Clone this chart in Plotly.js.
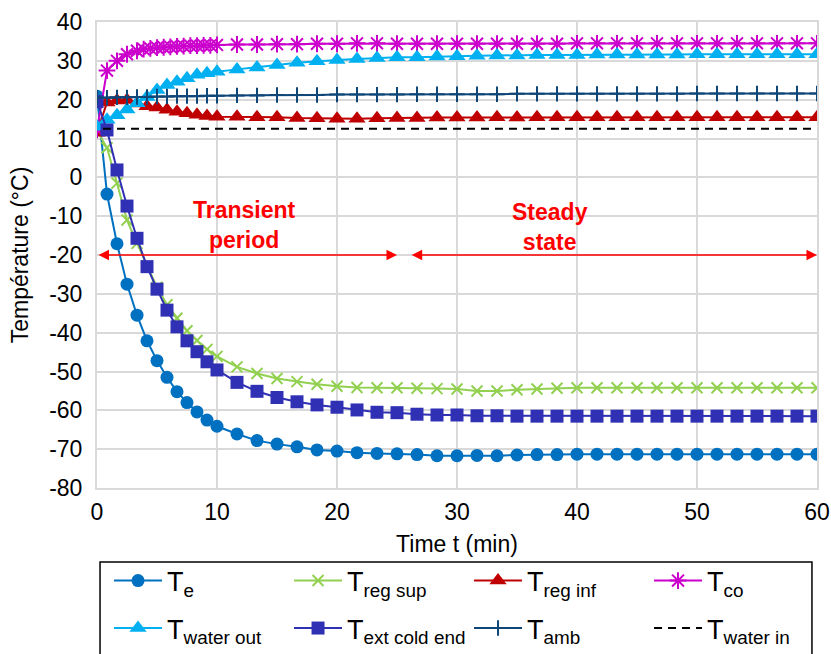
<!DOCTYPE html>
<html>
<head>
<meta charset="utf-8">
<script src="https://cdn.plot.ly/plotly-3.0.1.min.js"></script>
<style>html,body{margin:0;padding:0;background:#fff;}#chart{width:831px;height:654px;}</style>
</head>
<body>
<div id="chart"></div>
<script>
// ---- data (minutes, °C) ----
const time = [0, 0.833, 1.667, 2.5, 3.333, 4.167, 5, 5.833, 6.667, 7.5, 8.333, 9.167, 10,
  11.667, 13.333, 15, 16.667, 18.333, 20, 21.667, 23.333, 25, 26.667, 28.333, 30, 31.667, 33.333,
  35, 36.667, 38.333, 40, 41.667, 43.333, 45, 46.667, 48.333, 50, 51.667, 53.333, 55, 56.667, 58.333, 60];

const timeCo = [0, 0.833, 1.667, 2.5, 3.333, 3.889, 4.444, 5, 5.556, 6.111, 6.667, 7.222, 7.778, 8.333, 8.889, 9.444, 10,
  11.667, 13.333, 15, 16.667, 18.333, 20, 21.667, 23.333, 25, 26.667, 28.333, 30, 31.667, 33.333,
  35, 36.667, 38.333, 40, 41.667, 43.333, 45, 46.667, 48.333, 50, 51.667, 53.333, 55, 56.667, 58.333, 60];

const tE = [20.9, -4.3, -17.1, -27.5, -35.5, -42.1, -47.2, -51.5, -55.2, -58.0, -60.4, -62.5, -64.1,
  -66.1, -67.8, -68.7, -69.4, -70.2, -70.5, -70.9, -71.1, -71.2, -71.4, -71.7, -71.7, -71.6, -71.7,
  -71.5, -71.4, -71.4, -71.3, -71.3, -71.3, -71.3, -71.3, -71.3, -71.3, -71.3, -71.3, -71.3, -71.3, -71.3, -71.3];

const tRegSup = [12.0, 7.6, -1.5, -11.0, -17.0, -22.8, -28.3, -32.8, -36.3, -39.5, -42.0, -44.3, -46.1,
  -48.8, -50.5, -51.8, -52.6, -53.3, -53.8, -54.1, -54.2, -54.2, -54.3, -54.4, -54.5, -55.0, -55.0,
  -54.7, -54.5, -54.3, -54.2, -54.2, -54.2, -54.2, -54.2, -54.2, -54.2, -54.2, -54.2, -54.2, -54.2, -54.2, -54.2];

const tRegInf = [11.5, 19.3, 19.8, 19.9, 19.0, 18.3, 18.0, 17.4, 16.9, 16.5, 16.1, 15.8, 15.6,
  15.6, 15.5, 15.5, 15.3, 15.2, 15.1, 15.1, 15.2, 15.3, 15.3, 15.4, 15.4, 15.4, 15.5,
  15.4, 15.5, 15.5, 15.5, 15.5, 15.5, 15.5, 15.5, 15.5, 15.5, 15.5, 15.5, 15.5, 15.5, 15.5, 15.5];

const tCo = [12.2, 27.5, 30.0, 31.7, 32.6, 33.0, 33.2, 33.4, 33.5, 33.6, 33.7, 33.8, 33.9, 33.9, 34.0, 34.0, 34.1,
  34.2, 34.2, 34.3, 34.3, 34.4, 34.4, 34.5, 34.5, 34.4, 34.4, 34.4, 34.4, 34.4, 34.4,
  34.4, 34.4, 34.4, 34.5, 34.5, 34.5, 34.5, 34.5, 34.5, 34.5, 34.5, 34.5, 34.5, 34.5, 34.5, 34.5];

const tWaterOut = [13.0, 14.8, 16.0, 17.5, 19.1, 20.7, 22.5, 23.8, 24.6, 25.5, 26.4, 26.8, 27.2,
  27.8, 28.3, 28.9, 29.5, 29.9, 30.2, 30.5, 30.7, 30.9, 30.9, 31.1, 31.2, 31.3, 31.4,
  31.4, 31.5, 31.5, 31.5, 31.6, 31.6, 31.6, 31.6, 31.6, 31.7, 31.7, 31.7, 31.7, 31.7, 31.7, 31.7];

const tExtCold = [19.5, 12.2, 1.9, -7.4, -15.7, -23.0, -28.8, -34.2, -38.5, -42.1, -44.9, -47.5, -49.6,
  -52.8, -55.1, -56.7, -57.8, -58.6, -59.2, -59.9, -60.5, -60.6, -61.0, -61.2, -61.2, -61.4, -61.4,
  -61.5, -61.5, -61.5, -61.5, -61.5, -61.5, -61.5, -61.5, -61.5, -61.5, -61.5, -61.5, -61.5, -61.5, -61.5, -61.5];

const tAmb = [20.5, 20.5, 20.6, 20.6, 20.7, 20.7, 20.8, 20.8, 20.9, 20.9, 20.9, 21.0, 21.0,
  21.1, 21.1, 21.2, 21.2, 21.2, 21.3, 21.3, 21.3, 21.3, 21.4, 21.4, 21.4, 21.4, 21.4,
  21.5, 21.5, 21.5, 21.5, 21.5, 21.5, 21.5, 21.5, 21.5, 21.6, 21.6, 21.6, 21.6, 21.6, 21.6, 21.6];

const timeWaterIn = [0.5, 60];
const tWaterIn = [12.5, 12.5];

const seriesNames = ['T<sub>e</sub>', 'T<sub>reg sup</sub>', 'T<sub>reg inf</sub>', 'T<sub>co</sub>',
  'T<sub>water out</sub>', 'T<sub>ext cold end</sub>', 'T<sub>amb</sub>', 'T<sub>water in</sub>'];

const yTicks = [-80, -70, -60, -50, -40, -30, -20, -10, 0, 10, 20, 30, 40];
const xTicks = [0, 10, 20, 30, 40, 50, 60];

const phaseLabels = ['<b>Transient<br>period</b>', '<b>Steady<br>state</b>'];
const phaseLabelX = [12.3, 37.75];
const phaseLabelY = [-12.4, -12.9];
const phaseArrowStart = [0, 26.1];
const phaseArrowEnd = [25, 60];
const phaseArrowY = -20;

// ---- traces ----
const baseFont = 'Liberation Sans, Arial, sans-serif';
const legFont = 'Liberation Sans Narrow, Arial Narrow, Liberation Sans, Arial, sans-serif';

function tr(i, x, y, color, symbol, size, extra) {
  return {
    type: 'scatter', mode: 'lines+markers', name: seriesNames[i], x: x, y: y,
    line: {color: color, width: 2},
    marker: Object.assign({symbol: symbol, size: size, color: color, line: {width: 0, color: color}}, extra || {}),
    legend: i < 4 ? 'legend' : 'legend2'
  };
}

const data = [
  tr(0, time, tE, '#0070C0', 'circle', 13),
  tr(1, time, tRegSup, '#92D050', 'x-thin', 11, {line: {width: 2, color: '#92D050'}}),
  tr(2, time, tRegInf, '#C00000', 'triangle-up', 15),
  tr(3, timeCo, tCo, '#CC00CC', 'asterisk', 14, {line: {width: 2, color: '#CC00CC'}}),
  tr(4, time, tWaterOut, '#00B0F0', 'triangle-up', 15),
  tr(5, time, tExtCold, '#3030B4', 'square', 13),
  tr(6, time, tAmb, '#0F4678', 'cross-thin', 11, {line: {width: 2, color: '#0F4678'}}),
  {type: 'scatter', mode: 'lines', name: seriesNames[7], x: timeWaterIn, y: tWaterIn,
   line: {color: '#000000', width: 2, dash: '8px,6px'}, legend: 'legend2'}
];

const annotations = [];
for (let i = 0; i < phaseLabels.length; i++) {
  annotations.push({
    x: phaseLabelX[i], y: phaseLabelY[i], xref: 'x', yref: 'y', text: phaseLabels[i],
    showarrow: false, align: 'center',
    font: {family: baseFont, size: 23, color: '#FF0000'}
  });
  annotations.push({
    x: phaseArrowEnd[i], y: phaseArrowY, ax: phaseArrowStart[i], ay: phaseArrowY,
    xref: 'x', yref: 'y', axref: 'x', ayref: 'y', text: '', showarrow: true,
    arrowside: 'end+start', arrowhead: 2, startarrowhead: 2, arrowsize: 1.4, startarrowsize: 1.4,
    arrowwidth: 1.5, arrowcolor: '#FF0000', standoff: 0, startstandoff: 0
  });
}

const legendCommon = {
  orientation: 'h', xref: 'container', yref: 'container', xanchor: 'left', yanchor: 'middle',
  x: 0.1312, entrywidth: 117, itemwidth: 48, bgcolor: 'rgba(0,0,0,0)', borderwidth: 0,
  traceorder: 'normal', font: {family: legFont, size: 27, color: '#000'}
};

const layout = {
  width: 831, height: 654,
  margin: {l: 97, r: 14, t: 22, b: 166},
  paper_bgcolor: '#fff', plot_bgcolor: '#fff',
  showlegend: true,
  font: {family: baseFont, color: '#000'},
  xaxis: {
    range: [0, 60], tickvals: xTicks, ticktext: xTicks.map(String),
    showgrid: true, gridcolor: '#D9D9D9', gridwidth: 2, zeroline: false,
    showline: true, linecolor: '#D9D9D9', linewidth: 2, mirror: true,
    ticks: '', ticklabelstandoff: 2,
    tickfont: {family: baseFont, size: 23, color: '#000'},
    title: {text: 'Time t (min)', font: {family: baseFont, size: 23, color: '#000'}, standoff: 14}
  },
  yaxis: {
    range: [-80, 40], tickvals: yTicks, ticktext: yTicks.map(String),
    showgrid: true, gridcolor: '#D9D9D9', gridwidth: 2, zeroline: false,
    showline: true, linecolor: '#D9D9D9', linewidth: 2, mirror: true,
    ticks: '', ticklabelstandoff: 8,
    tickfont: {family: baseFont, size: 23, color: '#000'},
    title: {text: 'Température (°C)', font: {family: baseFont, size: 23, color: '#000'}, standoff: 14}
  },
  legend: Object.assign({}, legendCommon, {y: 0.1116}),
  legend2: Object.assign({}, legendCommon, {y: 0.0390}),
  shapes: [{
    type: 'rect', xref: 'paper', yref: 'paper', x0: 0.0042, x1: 0.993, y0: -0.6, y1: -0.1588,
    line: {color: '#000', width: 1.5}, fillcolor: 'rgba(0,0,0,0)', layer: 'above'
  }],
  annotations: annotations
};

Plotly.newPlot('chart', data, layout, {displayModeBar: false, staticPlot: true});
</script>
</body>
</html>
